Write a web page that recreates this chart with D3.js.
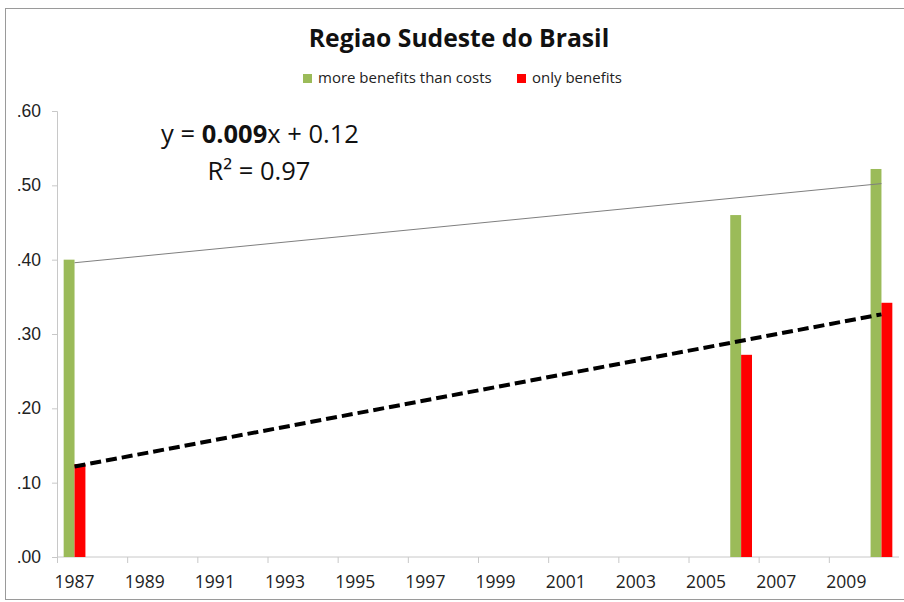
<!DOCTYPE html>
<html>
<head>
<meta charset="utf-8">
<script src="https://cdn.jsdelivr.net/npm/d3@7"></script>
<style>
  body { margin: 0; background: #fff; }
  svg { display: block; font-family: "Open Sans", "Liberation Sans", sans-serif; }
</style>
</head>
<body>
<svg></svg>
<script>
// Data
const years = d3.range(1987, 2011);
const seriesNames = ["more benefits than costs", "only benefits"];
const seriesColors = ["#9bbb59", "#ff0000"];
const barYears = [1987, 2006, 2010];
const moreBenefits = [0.40, 0.46, 0.522];
const onlyBenefits = [0.125, 0.272, 0.342];
const yTicks = [0, 0.1, 0.2, 0.3, 0.4, 0.5, 0.6];
const equationLine = ["y = ", "0.009", "x + 0.12"];
const rSquaredLabel = "R\u00b2 = 0.97";

const W = 904, H = 602;
const margin = { top: 111, right: 5, bottom: 45, left: 57 };

const svg = d3.select("svg").attr("width", W).attr("height", H);

// Chart frame
svg.append("rect")
  .attr("x", 5.5).attr("y", 8.5)
  .attr("width", 900).attr("height", 591)
  .attr("fill", "none")
  .attr("stroke", "#9a9a9a");

const x = d3.scaleBand()
  .domain(years)
  .range([margin.left, W - margin.right])
  .padding(0);

const y = d3.scaleLinear()
  .domain([0, 0.6])
  .range([H - margin.bottom, margin.top]);

const bw = x.bandwidth();
const xSub = d3.scaleBand()
  .domain(seriesNames)
  .range([bw * 0.19, bw * 0.81]);

// Y axis
const yAxis = svg.append("g")
  .attr("transform", `translate(${margin.left},0)`)
  .call(d3.axisLeft(y).tickValues(yTicks).tickSize(5).tickPadding(11)
    .tickFormat(d => d3.format(".2f")(d).replace(/^0/, "")));
yAxis.select(".domain").attr("stroke", "#c8c8c8");
yAxis.selectAll(".tick line").attr("stroke", "#c8c8c8");
yAxis.selectAll(".tick text").attr("font-size", 17.5).attr("fill", "#222");

// X axis: labels every other year, ticks on band boundaries
const xAxis = svg.append("g")
  .attr("transform", `translate(0,${y(0)})`);
xAxis.append("line")
  .attr("x1", margin.left).attr("x2", W - margin.right)
  .attr("stroke", "#c8c8c8");
xAxis.selectAll(".tk")
  .data(years.filter((d, i) => i % 2 === 0))
  .join("line")
  .attr("class", "tk")
  .attr("x1", d => x(d) + 0.5).attr("x2", d => x(d) + 0.5)
  .attr("y1", 0).attr("y2", 6)
  .attr("stroke", "#c8c8c8");
xAxis.selectAll(".lbl")
  .data(years.filter((d, i) => i % 2 === 0))
  .join("text")
  .attr("class", "lbl")
  .attr("x", d => x(d) + bw / 2)
  .attr("y", 31)
  .attr("text-anchor", "middle")
  .attr("font-size", 17.5)
  .attr("fill", "#222")
  .text(d => d);

// Bars
const barData = barYears.flatMap((yr, i) => [
  { year: yr, series: seriesNames[0], value: moreBenefits[i] },
  { year: yr, series: seriesNames[1], value: onlyBenefits[i] }
]);
svg.append("g")
  .selectAll("rect")
  .data(barData)
  .join("rect")
  .attr("x", d => x(d.year) + xSub(d.series))
  .attr("y", d => y(d.value))
  .attr("width", xSub.bandwidth())
  .attr("height", d => y(0) - y(d.value))
  .attr("fill", d => seriesColors[seriesNames.indexOf(d.series)]);

// Linear trendlines (Excel style, x = category index 1..n)
function fit(values) {
  const xs = barYears.map(yr => years.indexOf(yr) + 1);
  const mx = d3.mean(xs), my = d3.mean(values);
  const sxy = d3.sum(xs, (v, i) => (v - mx) * (values[i] - my));
  const sxx = d3.sum(xs, v => (v - mx) ** 2);
  const slope = sxy / sxx;
  return k => my + slope * (k - mx);
}
const first = years[0], last = years[years.length - 1];
const trend = (values) => {
  const f = fit(values);
  return [first, last].map(yr => [x(yr) + bw / 2, y(f(years.indexOf(yr) + 1))]);
};
const line = d3.line();

svg.append("path")
  .attr("d", line(trend(moreBenefits)))
  .attr("fill", "none")
  .attr("stroke", "#7f7f7f")
  .attr("stroke-width", 1);

svg.append("path")
  .attr("d", line(trend(onlyBenefits)))
  .attr("fill", "none")
  .attr("stroke", "#000")
  .attr("stroke-width", 4)
  .attr("stroke-dasharray", "11,5");

// Title
svg.append("text")
  .attr("x", 459).attr("y", 47)
  .attr("text-anchor", "middle")
  .attr("font-size", 24.7)
  .attr("font-weight", "bold")
  .attr("fill", "#111")
  .text("Regiao Sudeste do Brasil");

// Legend
const legendX = [303, 517];
const legend = svg.append("g");
seriesNames.forEach((name, i) => {
  legend.append("rect")
    .attr("x", legendX[i]).attr("y", 74)
    .attr("width", 9).attr("height", 9)
    .attr("fill", seriesColors[i]);
  legend.append("text")
    .attr("x", legendX[i] + 15).attr("y", 83)
    .attr("font-size", 15)
    .attr("fill", "#222")
    .text(name);
});

// Trendline equation label
const eq = svg.append("text")
  .attr("x", 260).attr("y", 143)
  .attr("text-anchor", "middle")
  .attr("font-size", 25.5)
  .attr("fill", "#111");
equationLine.forEach((part, i) => {
  eq.append("tspan")
    .attr("font-weight", i === 1 ? "bold" : null)
    .text(part);
});
svg.append("text")
  .attr("x", 259).attr("y", 180)
  .attr("text-anchor", "middle")
  .attr("font-size", 25.5)
  .attr("fill", "#111")
  .text(rSquaredLabel);
</script>
</body>
</html>
